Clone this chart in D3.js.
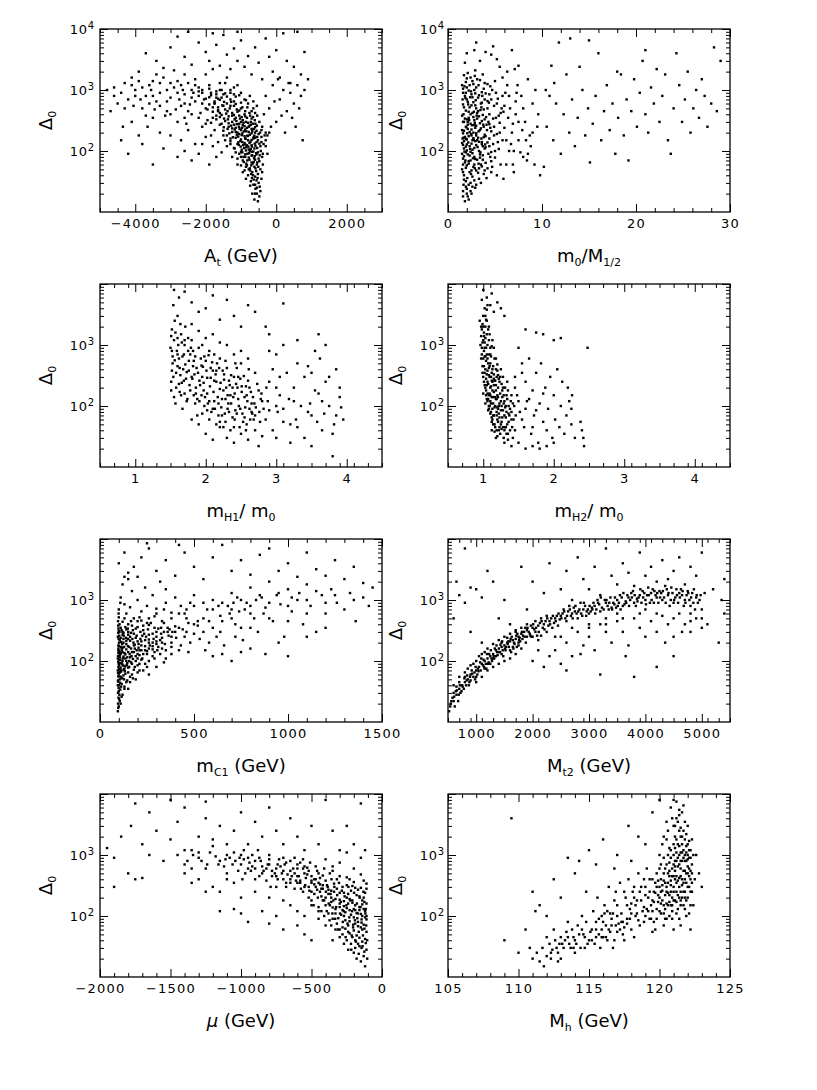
<!DOCTYPE html>
<html>
<head>
<meta charset="utf-8">
<script src="https://cdn.jsdelivr.net/npm/d3@7"></script>
<style>
  body { margin: 0; background: #fff; }
  svg { display: block; }
  text { font-family: "DejaVu Sans", "Liberation Sans", Arial, sans-serif; fill: #000; }
</style>
</head>
<body>
<script>
// Delta_0 vs. parameter scatter panels

var atPts = [[-520,15],[-480,18],[-600,20],[-450,22],[-550,25],[-650,28],[-500,30],[-720,32],[-420,35],[-600,38],[-800,40],[-520,42],[-680,45],[-900,48],[-450,50],[-750,52],[-620,55],[-1000,58],[-550,60],[-850,62],[-700,65],[-480,68],[-950,70],[-600,72],[-1100,75],[-780,78],[-400,80],[-680,85],[-880,88],[-1050,90],[-520,95],[-750,100],[-980,105],[-620,110],[-1200,112],[-850,115],[-450,120],[-700,125],[-1100,130],[-900,135],[-560,140],[-1300,145],[-800,150],[-1000,155],[-650,160],[-1150,165],[-420,170],[-900,175],[-1400,180],[-750,185],[-1050,190],[-600,200],[-1250,205],[-850,210],[-1500,215],[-1000,220],[-700,230],[-1150,240],[-1350,250],[-900,255],[-550,260],[-1600,270],[-1050,280],[-800,290],[-1250,300],[-1450,310],[-950,320],[-1700,330],[-700,340],[-1150,350],[-1350,370],[-1550,390],[-900,400],[-1250,420],[-1800,440],[-1050,460],[-1450,480],[-650,500],[-1650,520],[-1200,550],[-1900,580],[-1400,600],[-1000,620],[-1750,650],[-1300,700],[-2000,720],[-1550,750],[-1150,780],[-1850,820],[-1450,880],[-2100,900],[-1700,950],
  [-560,33],[-740,48],[-830,58],[-610,82],[-960,95],[-720,108],[-880,128],[-1020,145],[-600,165],[-780,205],[-1100,200],[-970,240],[-1200,270],[-660,280],[-1380,230],[-830,350],[-1050,380],[-500,190],[-1300,160],[-1180,110],[-440,100],[-1000,300],[-880,450],[-760,260],[-640,230],
  [-470,26],[-590,24],[-530,36],[-660,40],[-710,58],[-570,47],[-640,66],[-820,70],[-500,75],[-930,80],[-560,88],[-770,92],[-690,97],[-860,102],[-1010,118],[-590,122],[-790,118],[-940,125],[-480,132],[-1080,138],[-730,142],[-870,158],[-1230,168],[-620,178],[-980,182],[-1120,185],[-700,195],[-820,178],[-1330,195],[-920,210],[-1180,225],[-560,215],[-1060,250],[-830,240],[-1280,260],[-1490,245],[-720,300],[-930,290],[-1130,310],[-1370,330],[-610,320],[-1030,340],[-1600,360],[-880,370],[-1200,390],[-1420,410],[-760,420],[-1100,440],[-1650,470],[-1320,500],[-960,520],[-1530,560],[-1150,590],[-1750,610],[-1280,640],[-860,680],[-1600,690],[-1400,780],[-1900,760],[-1050,820],[-1700,850],[-1300,900],[-2200,800],[-1550,1000],[-2400,750],[-1900,1050],[-2300,1200],[-1200,1100],[-2600,600],[-2800,900],[-3100,1000],[-3500,800],[-4000,800],[-3300,1300],[-2500,450],[-2200,350],[-2000,280],[-1750,220],[-1500,180],[-1650,140],[-1850,180],[-2100,130],[-1400,120],[-1550,95],[-1250,80],[-1100,60],[-950,45],[-860,35],[-740,27],[-680,20],[-620,16],[-400,45],[-380,90],[-360,130],[-420,220],[-480,300],[-540,380],[-300,200],[-600,420],[-700,450],[-800,600],[-900,700],[-1000,500],[-750,800],[-650,650],[-550,550],[-1600,1300],[-1400,1600],[-2800,1400],[-3800,1100],[-4300,500],[-4600,800],[-3600,600],
  [-640,34],[-710,42],[-780,50],[-590,52],[-860,55],[-670,62],[-540,65],[-920,66],[-760,72],[-630,76],[-880,80],[-700,84],[-820,90],[-570,92],[-1000,96],[-650,98],[-780,106],[-910,112],[-540,112],[-690,118],[-830,124],[-1060,126],[-610,132],[-760,136],[-960,140],[-520,150],[-700,152],[-880,162],[-1080,172],[-640,170],[-800,176],[-960,195],[-1150,205],[-680,212],[-880,225],[-1040,232],[-600,245],[-780,250],[-1250,235],[-950,265],[-1120,275],[-720,270],[-860,300],[-1350,285],[-1180,330],[-980,360],[-1480,340],[-1250,380],[-1600,420],[-1380,450],[-1120,480],[-1800,520],[-1480,640],[-1650,720],[-2100,600],[-1950,480],[-1700,380],[-1850,290],[-1300,130],[-1150,95],[-1450,150],[-1000,80],[-600,28],[-550,20],[-690,36],[-510,55],[-470,85],[-420,140],[-460,200],[-540,170],[-590,280],[-660,360],[-740,380],[-820,520],[-1200,650],[-1500,850],[-1300,550],[-2400,1000],[-2700,1200],[-2100,1000],[-3300,550],[-3000,400],[-2600,350],[-4100,1200],[-3500,1400],
  [-4600,1100],[-4400,900],[-4300,1300],[-4500,600],[-4200,700],[-4000,1000],[-3900,1400],[-3800,500],[-3700,800],[-3600,1200],[-3500,350],[-3400,650],[-3300,900],[-3200,1600],[-3100,450],[-3000,750],[-2900,1100],[-2800,300],[-2700,550],[-2600,850],[-2500,1300],[-2400,400],[-2300,650],[-2200,950],[-2100,250],[-2000,500],[-1900,1200],[-1800,350],[-1700,750],[-1600,1000],[-1500,550],[-3650,250],[-3300,200],[-3000,180],[-2700,150],[-2500,220],[-2300,130],[-2000,170],[-1800,120],[-4100,300],[-3900,180],[-4400,150],[-4200,90],[-3800,130],[-3500,60],[-3200,110],[-2800,80],[-2600,100],[-2400,70],[-2200,90],[-1900,60],[-1700,80],[-4700,450],[-4800,1000],[-3000,1300],[-2600,1800],[-2300,1500],[-2000,1800],[-1800,2200],[-3400,1800],[-2900,2100],[-3550,1000],[-2750,700],[-2450,580],[-2150,420],[-1950,320],[-3850,700],[-4050,550],[-3150,380],[-2850,480],[-1650,450],[-1550,280],[-2550,280],[-3450,480],[-4350,250],[-3700,380],[-2050,700],[-1850,900],[-1750,600],[-2350,900],[-1450,1300],[-1300,1000],[-1200,850],[-1100,1200],[-1000,900],[-3100,650],[-2650,1000],[-2200,1100],
  [-3700,4000],[-3400,3000],[-3000,5000],[-2800,7500],[-2600,3500],[-2400,2600],[-2200,6000],[-2000,4200],[-1900,3000],[-1700,5500],[-1600,2500],[-1500,8000],[-1400,3800],[-1300,2200],[-1200,4800],[-1100,3000],[-1000,6500],[-900,2400],[-800,3600],[-700,1800],[-600,5000],[-500,2800],[-400,1500],[-300,7000],[-200,3500],[-100,2000],[0,4500],[100,1600],[200,8500],[300,3000],[400,1300],[500,2400],[600,9000],[700,1800],[800,4200],[900,1500],[-2500,9000],[-1800,8500],[-3200,2300],[-4100,1600],[-3900,2000],[-1100,9000],
  [-300,800],[-200,500],[-100,1200],[0,300],[100,700],[200,1000],[300,450],[400,900],[500,600],[600,1200],[700,800],[-350,400],[-150,250],[50,1500],[250,200],[450,350],[650,500],[800,1000],[-50,650],[150,380],[350,1300],[-400,250],[-250,180],[-300,150],[550,250],[750,150],[-300,120],[-250,90],[-380,60],[-200,200],[-330,180]];

var ratioPts = [[1.8,15],[2.1,18],[2.5,20],[1.6,22],[2.9,25],[2.2,28],[1.9,32],[3.3,35],[2.6,38],[1.7,40],[3.8,42],[2.3,45],[3.0,48],[1.5,50],[4.2,52],[2.7,55],[2.0,58],[3.5,60],[1.8,65],[4.6,68],[2.4,70],[3.1,72],[1.6,75],[5.0,78],[2.8,80],[3.7,85],[2.1,88],[4.3,90],[1.9,95],[3.3,100],[2.6,105],[5.4,108],[1.7,110],[4.0,115],[2.3,120],[3.0,125],[4.8,130],[1.5,135],[3.6,140],[2.9,145],[5.8,150],[2.0,155],[4.4,160],[3.2,165],[1.8,170],[2.5,180],[3.9,185],[5.2,190],[1.6,195],[2.7,200],[4.6,210],[3.4,220],[2.1,230],[6.0,240],[1.9,250],[3.0,260],[4.1,270],[2.4,280],[5.5,290],[1.7,300],[3.6,310],[2.8,320],[4.8,340],[2.2,350],[3.3,370],[1.5,380],[4.4,400],[2.6,420],[5.9,440],[1.9,460],[3.8,480],[3.0,500],[2.3,520],[4.9,550],[1.6,580],[3.5,600],[2.7,630],[4.2,660],[2.0,700],[5.3,720],[3.2,750],[1.8,800],[2.5,850],[4.0,880],[3.6,920],[2.2,980],[1.6,1050],[3.0,1100],[4.5,1150],[2.7,1250],[1.9,1350],[3.4,1450],[2.4,1600],[1.7,1750],[5.0,1400],[3.9,1300],[6.3,1200],[2.1,1900],[2.9,2100],
  [2.2,62],[3.4,78],[2.6,92],[3.9,110],[2.0,128],[3.1,150],[4.0,175],[2.3,205],[3.5,235],[2.8,265],[4.3,300],[2.0,330],[3.1,420],[2.5,560],[3.9,700],[2.9,880],[4.7,1000],[2.2,440],[3.7,390],[2.6,150],[1.9,118],[4.5,240],[5.1,350],[2.8,60],[3.3,52],[1.7,145],[2.4,97],[3.0,180],[2.1,300],[3.6,130],
  [1.6,18],[2.0,24],[2.4,30],[1.7,34],[2.8,33],[3.2,44],[2.5,48],[1.9,53],[3.6,56],[2.2,68],[4.0,64],[2.9,74],[1.7,82],[3.4,88],[2.3,84],[4.6,96],[2.0,102],[2.8,112],[3.7,120],[1.6,126],[2.5,132],[4.2,138],[3.3,142],[1.9,158],[2.7,162],[3.8,168],[2.2,175],[4.9,180],[3.0,195],[1.7,215],[2.5,225],[3.8,250],[2.9,240],[4.4,275],[2.1,270],[3.4,285],[1.8,340],[2.7,360],[3.9,330],[5.4,380],[2.4,400],[3.2,450],[4.2,500],[1.7,520],[2.9,560],[3.6,620],[2.1,640],[4.6,700],[2.6,760],[3.3,820],[1.9,900],[2.8,1000],[3.8,1050],[2.3,1200],[4.2,1250],[3.1,1500],[2.0,1550],[5.8,800],[6.0,550],[5.5,200],[6.2,150],[7.0,100],[7.5,300],[8.0,500],[5.0,100],[4.7,55],[3.9,48],[2.6,26],[2.0,20],[1.6,60],[1.6,300],[1.6,900],[1.5,1200],[1.5,220],[1.5,90],[2.2,16],[3.5,30],[4.4,120],[3.1,340],[3.7,1800],[8.5,90],[9.0,200],[7.2,650],
  [1.65,28],[2.05,36],[2.45,42],[2.85,52],[3.25,62],[1.85,70],[2.65,76],[3.45,95],[1.75,98],[2.35,108],[3.15,116],[3.95,128],[2.15,138],[2.75,152],[3.55,160],[1.65,165],[2.45,190],[3.25,210],[4.15,220],[1.95,245],[2.85,290],[3.75,270],[2.25,320],[4.05,360],[1.65,400],[2.75,440],[3.55,520],[2.15,580],[4.35,620],[2.95,680],[1.85,740],[3.65,800],[2.45,950],[1.75,1150],[3.25,1200],[2.6,1400],[4.4,850],[5.2,600],[5.6,420],[4.9,250],[5.3,140],[4.5,80],[4.1,36],[3.0,28],[2.4,22],[1.9,26],[3.7,72],[2.05,195],[2.55,265],[3.05,380],[3.45,470],[2.35,760],[2.85,1700],[2.0,1100],[1.55,700],[1.55,160],[1.6,45],[6.5,800],[7.3,900],[6.9,60],[8.3,150],[5.8,1600],
  [6.2,60],[6.5,100],[6.8,200],[7.0,45],[7.2,400],[7.5,150],[7.8,800],[8.0,80],[8.2,300],[8.5,1500],[8.8,120],[9.0,600],[9.2,60],[9.5,250],[9.8,40],[6.1,900],[6.6,500],[7.4,1200],[8.4,70],[9.3,1000],[6.9,280],[7.7,95],[8.7,180],[9.6,400],[6.3,2000],[7.1,2200],[5.6,60],[5.9,35],[5.2,40],[4.6,45],[6.7,130],[5.7,500],[5.1,900],[6.4,350],[7.9,220],
  [2.0,4000],[2.8,4500],[3.4,3000],[4.0,4200],[4.6,3800],[5.2,3200],[3.0,6000],[4.8,5200],[6.8,4500],[7.5,2500],[1.8,2800],[5.5,2400],
  [10.2,55],[10.5,250],[10.8,800],[11.0,2500],[11.2,150],[11.5,600],[11.8,6000],[12.0,90],[12.3,400],[12.6,1800],[12.9,200],[13.2,700],[13.5,120],[13.8,350],[14.0,2400],[14.3,1000],[14.6,180],[14.9,500],[15.1,65],[15.4,280],[15.7,800],[16.0,4000],[16.3,150],[16.6,450],[16.9,1200],[17.2,220],[17.5,600],[17.8,90],[18.1,350],[18.4,1800],[18.7,180],[19.0,700],[19.2,70],[19.5,450],[19.8,1500],[20.1,250],[20.4,900],[20.7,3000],[21.0,400],[21.3,200],[21.6,1100],[21.9,600],[22.2,2200],[22.5,300],[22.8,800],[23.1,1800],[23.4,150],[23.7,90],[24.0,500],[24.3,4000],[24.6,1200],[24.9,300],[25.2,700],[25.5,2000],[25.8,200],[26.1,500],[26.4,1000],[26.7,350],[27.0,1500],[27.3,800],[27.6,250],[28.0,600],[28.3,5000],[28.6,450],[29.0,3000],[13.0,7000],[15.0,6500],[18.0,2000],[21.0,4500],[11.3,1300],[10.4,1000]];

var mh1Pts = [[1.52,1800],[1.55,1200],[1.5,900],[1.6,700],[1.53,500],[1.58,350],[1.51,250],[1.65,1500],[1.7,1000],[1.62,600],[1.75,800],[1.68,400],[1.8,1200],[1.72,280],[1.85,650],[1.78,180],[1.9,900],[1.82,450],[1.95,300],[1.88,130],[2.0,550],[1.92,220],[2.05,800],[1.98,100],[2.1,380],[2.02,160],[2.15,250],[2.08,80],[2.2,600],[2.12,120],[2.25,180],[2.18,70],[2.3,420],[2.22,95],[2.35,150],[2.28,55],[2.4,300],[2.32,110],[2.45,200],[2.38,65],[2.5,500],[2.42,85],[2.55,140],[2.48,45],[2.6,260],[2.52,75],[2.65,110],[2.58,50],[2.7,350],[2.62,90],[2.75,180],[2.68,60],[2.8,120],[1.56,2500],[1.6,3000],[1.54,4500],[1.63,170],[1.57,110],[1.67,90],[1.74,130],[1.86,200],[1.94,150],[2.06,210],[2.14,330],[2.26,270],[2.34,220],[2.46,130],[2.56,95],[2.66,75],[2.76,80],[1.84,330],[1.76,550],[1.66,1100],[1.59,800],[1.96,440],[2.04,680],[2.16,500],[2.24,380],[2.44,420],[2.54,310],[2.64,170],[1.71,2000],[1.9,1700],[2.0,1300],[2.3,1000],[2.5,800],[2.2,1100],[2.1,1500],[1.8,2200],
  [1.51,1400],[1.53,650],[1.52,380],[1.51,180],[1.55,140],[1.6,450],[1.62,230],[1.64,320],[1.69,700],[1.73,360],[1.77,220],[1.79,900],[1.83,150],[1.87,420],[1.91,260],[1.93,600],[1.97,180],[2.01,380],[2.03,110],[2.07,290],[2.11,170],[2.13,90],[2.17,140],[2.19,420],[2.23,130],[2.27,75],[2.29,200],[2.33,80],[2.36,320],[2.39,140],[2.41,60],[2.43,230],[2.47,100],[2.51,170],[2.53,55],[2.57,210],[2.59,120],[2.63,60],[2.67,140],[2.71,95],[2.73,230],[2.77,55],[2.79,160],[2.82,90],[1.7,160],[1.85,110],[1.95,75],[2.05,60],[2.15,50],[2.25,45],[2.35,40],[1.66,240],[1.81,280],[2.09,520],[2.21,240],[2.31,150],[2.49,280],[2.61,400],[1.6,1300],[1.75,1300],[1.95,1000],[2.4,700],[2.6,600],[2.9,800],[3.0,200],[3.1,55],[3.25,120],[3.45,80],[3.65,120],[3.85,70],[3.3,45],[3.0,100],[3.5,350],
  [1.52,800],[1.54,300],[1.56,560],[1.58,200],[1.61,1000],[1.63,420],[1.65,150],[1.67,650],[1.69,260],[1.71,480],[1.73,120],[1.76,380],[1.78,700],[1.8,300],[1.83,550],[1.86,160],[1.89,350],[1.91,120],[1.94,460],[1.97,240],[1.99,140],[2.02,290],[2.05,120],[2.07,420],[2.1,90],[2.12,260],[2.15,380],[2.18,110],[2.2,190],[2.23,70],[2.26,330],[2.28,130],[2.31,90],[2.33,260],[2.36,110],[2.38,200],[2.41,160],[2.44,75],[2.46,300],[2.49,90],[2.51,210],[2.55,65],[2.58,150],[2.62,200],[2.65,80],[2.69,110],[1.57,1600],[1.64,2200],[1.7,1200],[1.82,800],[1.98,650],[2.12,700],[2.28,550],[2.42,500],[2.02,85],[2.2,55],[2.4,45],[1.88,70],[2.57,40],[2.7,70],[2.78,130],[2.86,200],[2.9,85],[3.05,300],
  [1.55,8000],[1.62,6000],[1.7,7500],[1.8,5000],[1.9,3500],[2.0,4000],[2.1,6500],[2.2,2600],[2.4,3000],[2.6,4500],[2.7,3500],[2.85,2000],[2.9,1500],[3.1,4800],[2.5,2000],[2.3,5500],
  [2.85,60],[2.9,250],[2.95,40],[3.0,700],[3.05,150],[3.1,90],[3.15,350],[3.2,50],[3.25,200],[3.3,1200],[3.35,100],[3.4,30],[3.45,450],[3.5,70],[3.55,180],[3.6,1500],[3.62,600],[3.65,40],[3.7,250],[3.75,100],[3.8,35],[3.85,400],[3.9,140],[3.95,60],[3.0,30],[3.2,25],[3.5,22],[3.8,15],[3.3,500],[3.1,1000],[2.95,400],[3.55,800],[3.7,1000],[3.4,300],[3.6,160],[3.75,300],[3.9,200],[2.88,120],[3.02,80],[3.18,130],[3.28,60],[3.48,110],[3.58,55],[3.68,75],[3.82,50],[3.92,95],
  [2.0,35],[2.1,28],[2.3,30],[2.4,25],[2.5,35],[2.6,28],[2.7,40],[2.8,32],[2.2,45],[1.9,50],[2.75,22],[1.8,60]];

var mh2Pts = [[0.95,2500],[0.98,1800],[1.0,1200],[1.02,900],[0.97,600],[1.05,1500],[1.03,400],[1.08,700],[1.0,300],[1.06,250],[1.1,500],[1.04,180],[1.12,350],[1.07,130],[1.15,220],[1.09,100],[1.18,400],[1.11,80],[1.2,150],[1.13,60],[1.22,280],[1.16,50],[1.25,120],[1.19,40],[1.28,200],[1.21,90],[1.3,70],[1.24,35],[1.33,150],[1.26,55],[1.36,100],[1.29,30],[1.4,80],[1.32,45],[1.43,60],[1.35,28],[1.45,40],[0.99,450],[1.01,800],[1.03,2000],[1.06,1000],[1.08,320],[1.1,200],[1.12,140],[1.14,110],[1.16,260],[1.18,180],[1.2,95],[1.22,75],[1.24,160],[1.26,230],[1.28,85],[1.3,120],[1.32,65],[1.34,50],[1.0,3000],[1.02,650],[1.04,550],[1.06,380],[1.08,150],[1.1,120],[1.13,90],[1.15,70],[1.17,140],[1.19,300],[1.21,200],[1.23,110],[1.27,65],[1.31,95],[1.38,40],[1.42,30],[1.1,700],[1.14,450],[1.18,600],[1.05,220],[0.96,1000],[1.0,160],[1.03,110],[1.25,400],[1.35,180],[1.37,70],[1.12,40],[1.2,32],[1.3,25],[1.4,22],[1.15,900],[1.08,1200],
  [0.97,1400],[0.99,2200],[1.01,1600],[1.03,1300],[1.05,700],[1.07,500],[1.09,450],[1.11,300],[1.13,250],[1.15,170],[1.17,100],[1.19,70],[1.21,55],[1.23,45],[1.25,85],[1.27,140],[1.29,110],[1.31,45],[1.33,80],[1.36,55],[1.39,120],[1.41,45],[1.44,100],[0.98,900],[1.0,600],[1.02,350],[1.04,280],[1.06,160],[1.08,100],[1.1,75],[1.12,65],[1.14,50],[1.16,38],[1.18,30],[1.22,40],[1.26,42],[1.01,250],[1.03,200],[1.05,130],[1.07,85],[1.09,160],[1.11,210],[1.13,180],[1.15,330],[1.17,260],[1.19,130],[1.21,320],[1.23,250],[1.07,1800],[1.04,2600],[1.02,4000],[0.99,1100],[1.12,950],[1.2,480],[1.28,300],[1.34,250],[1.4,150],[1.46,70],[1.5,120],[1.55,60],[1.6,90],[1.7,45],[1.45,200],[1.35,35],
  [0.98,700],[0.99,350],[1.0,2000],[1.01,450],[1.02,220],[1.02,1100],[1.03,650],[1.04,150],[1.04,900],[1.05,330],[1.06,120],[1.06,600],[1.07,230],[1.08,90],[1.08,420],[1.09,300],[1.1,150],[1.1,900],[1.11,110],[1.12,260],[1.12,55],[1.13,400],[1.14,140],[1.14,70],[1.15,280],[1.16,95],[1.16,600],[1.17,45],[1.18,130],[1.18,220],[1.19,80],[1.2,380],[1.2,60],[1.21,140],[1.22,100],[1.23,65],[1.24,300],[1.25,50],[1.26,100],[1.27,180],[1.28,45],[1.29,150],[1.3,40],[1.31,200],[1.32,100],[1.33,35],[1.34,130],[1.36,75],[1.38,90],[1.4,60],[1.42,110],[1.01,1400],[1.03,3000],[0.97,2000],[1.09,1500],[1.11,650],[1.13,1200],[1.05,2500],[1.06,4500],[1.08,2000],
  [1.0,8000],[1.05,6000],[1.1,4500],[1.12,7000],[1.15,3500],[1.2,5000],[1.25,4000],[1.3,3000],[0.98,5500],[1.05,3800],[1.6,1800],[1.75,1600],[1.85,1500],[2.1,1300],[2.0,1200],
  [1.45,300],[1.48,150],[1.5,900],[1.52,80],[1.55,500],[1.58,45],[1.6,250],[1.62,120],[1.65,600],[1.68,35],[1.7,180],[1.72,70],[1.75,350],[1.78,25],[1.8,110],[1.82,500],[1.85,55],[1.88,200],[1.9,40],[1.92,90],[1.95,300],[1.98,30],[2.0,150],[2.02,60],[2.05,400],[2.08,45],[2.1,100],[2.12,250],[2.15,35],[2.18,70],[2.2,200],[2.22,120],[2.25,90],[2.26,150],[2.25,50],[2.3,30],[1.5,25],[1.6,20],[1.7,22],[1.8,20],[1.9,22],[2.0,25],[1.55,350],[1.65,130],[1.75,85],[1.85,160],[2.4,40],[2.42,30],[2.43,22],[2.38,55],[2.48,900]];

var charginoPts = [[95,15],[100,18],[105,22],[98,25],[110,20],[120,28],[100,32],[130,35],[95,40],[115,42],[140,45],[105,50],[160,55],[125,58],[100,62],[150,65],[95,70],[180,72],[110,78],[135,82],[200,85],[100,90],[165,95],[120,100],[220,105],[95,110],[145,115],[190,120],[105,125],[250,130],[130,135],[170,140],[100,145],[210,150],[280,155],[115,160],[155,170],[240,175],[98,180],[185,185],[300,190],[125,200],[220,210],[105,220],[260,225],[150,230],[330,240],[95,250],[195,260],[120,270],[280,280],[165,290],[360,300],[100,310],[230,320],[140,330],[310,340],[110,350],[200,360],[400,370],[97,380],[260,390],[150,400],[340,420],[120,440],[220,460],[180,500],[100,520],[290,540],[140,600],[380,620],[220,650],[100,700],[300,720],[160,760],[250,800],[130,850],[350,900],[200,1000],[110,1100],[280,1200],[170,1400],[240,1600],[120,1800],[320,2000],[200,2400],[150,2200],[350,1500],[400,1100],[430,800],[460,500],[420,350],[450,250],[380,200],[330,160],[280,120],[240,90],[200,65],[160,45],[130,38],[260,60],[300,80],[350,110],[420,150],[480,200],[500,280],[470,140],[520,380],[380,130],[340,95],[230,70],[190,50],[150,35],[115,26],[108,105],[118,190],[138,240],[158,130],[178,200],[205,165],[225,110],[245,250],[265,180],[285,230],[305,150],[325,280],[345,190],[365,260],[385,300],[405,240],[440,330],[470,420],[96,48],[102,85],[112,135],[98,160],[104,300],[108,66],[130,75],[145,92],[175,108],[210,125],[250,145],[125,118],[170,60],[140,155],[185,80],[112,55],[128,170],[160,215],[300,300],[190,340],[270,420],
  [96,20],[103,28],[99,36],[107,44],[97,56],[113,68],[101,74],[119,88],[97,96],[124,84],[106,115],[98,135],[116,150],[101,200],[110,240],[97,290],[126,260],[104,400],[115,320],[99,600],[108,900],[135,110],[150,140],[165,160],[180,180],[200,210],[220,180],[240,220],[260,270],[280,200],[300,250],[320,220],[340,300],[360,350],[380,250],[400,300],[135,62],[150,78],[170,90],[190,100],[210,90],[230,130],[260,100],[290,140],[320,130],[350,150],[380,170],[145,48],[175,52],[210,70],[250,80],[290,110],[150,300],[170,380],[200,450],[230,380],[260,500],[300,600],[340,700],[380,500],[420,600],[460,700],[500,800],[550,900],[600,700],[650,900],[700,700],[750,1000],[800,800],[850,1200],[900,900],[950,1300],[1000,800],[1100,1000],[1150,1400],[1250,1200],[1350,1000],[500,400],[550,500],[600,350],[650,450],[700,500],[750,350],[800,600],[900,500],[1000,450],[1100,600],[1200,900],[430,180],[460,300],[530,230],[580,200],[640,300],[720,250],[800,350],[120,140],[125,230],[112,170],[140,190],[160,250],[180,280],[195,150],[215,230],[235,280],
  [97,17],[102,24],[96,30],[108,34],[100,40],[112,38],[96,46],[118,52],[103,56],[128,50],[96,64],[109,72],[132,68],[98,80],[115,94],[142,86],[100,104],[122,110],[155,100],[96,120],[109,130],[135,128],[168,120],[98,150],[120,165],[148,175],[185,160],[101,175],[113,205],[140,215],[172,230],[205,190],[99,230],[120,300],[150,270],[190,240],[225,260],[260,200],[300,210],[330,200],[98,340],[135,360],[175,320],[215,300],[255,330],[290,350],[325,350],[370,330],[96,450],[130,500],[165,450],[210,520],[250,420],[330,450],[102,260],[125,290],[148,340],[106,140],[140,100],[160,115],[180,140],[200,130],[220,150],[260,160],[280,175],[240,150],[310,170],[105,65],[125,72],[155,80],[107,92],[200,110],
  [450,600],[480,900],[500,1200],[520,450],[550,300],[570,700],[600,1000],[620,250],[640,550],[660,180],[680,800],[700,1300],[720,400],[740,650],[760,220],[780,900],[800,1600],[820,500],[840,300],[860,1100],[880,750],[900,2000],[920,450],[940,1200],[960,850],[980,250],[1000,1500],[1020,650],[1050,1000],[1080,400],[1100,1800],[1120,800],[1150,300],[1180,1200],[1200,600],[1230,1500],[1260,900],[1300,700],[1330,1300],[1360,450],[1400,1100],[1430,800],[1450,1600],[560,150],[600,120],[650,130],[700,100],[750,140],[800,160],[880,130],[950,200],[1000,120],[1100,250],[1200,350],[580,450],[630,800],[690,600],[710,900],[730,1100],[770,700],[830,1000],[870,600],[1020,1100],[1060,1300],
  [100,4000],[130,6000],[150,2800],[180,3500],[220,5000],[260,7000],[300,3000],[350,4500],[400,2500],[450,6000],[500,3500],[550,2200],[600,5000],[650,8000],[700,3000],[750,4500],[800,2600],[850,5500],[900,7000],[950,3000],[1000,4000],[1050,2400],[1100,6000],[1150,3200],[1200,2500],[1250,4500],[1300,2200],[1350,3500],[1400,1900],[250,8500],[420,8000],[130,2400]];

var stopPts = [[520,15],[550,20],[580,25],[620,18],[600,30],[650,28],[700,35],[680,22],[750,40],[720,30],[800,45],[780,35],[850,50],[820,40],[900,60],[880,45],[950,55],[1000,70],[980,50],[1050,80],[1020,60],[1100,90],[1080,70],[1150,100],[1120,85],[1200,110],[1180,75],[1250,120],[1220,95],[1300,130],[1280,100],[1350,150],[1320,110],[1400,160],[1380,125],[1450,170],[1420,140],[1500,180],[1480,120],[1550,200],[1520,150],[1600,210],[1580,170],[1650,220],[1620,140],[1700,230],[1680,190],[1750,250],[1720,170],[1800,280],[1780,210],[1850,300],[1820,230],[1900,320],[1880,200],[1950,280],[2000,350],[1980,250],[2050,300],[2100,380],[2150,260],[2200,400],[2250,300],[2300,450],[2350,350],[2400,500],[2450,380],[2500,550],[2600,450],[2700,600],[2800,500],[2900,700],[3000,600],[3100,800],[3200,650],[3300,900],[3400,750],[3500,1000],[3600,800],[3700,1100],[3800,900],[3900,1200],[4000,1000],[4100,1300],[4200,1100],[4300,1000],[4400,1200],[4500,900],[4600,1300],[4700,1000],[4800,800],[4900,1100],[5000,700],[600,40],[700,55],[800,65],[900,85],[1000,100],[1100,130],[1200,160],[1300,190],[1400,220],[1500,250],[1600,280],[1700,320],[1800,350],[1900,400],[2000,250],[2100,220],[1000,45],[1100,55],[1200,70],[1300,80],[1400,90],[1500,100],[1600,110],[1700,130],[1800,160],[850,75],[950,90],[1050,120],[1150,140],[1250,90],[1350,120],[1450,200],[1550,240],[1650,170],[1750,200],[2050,450],[2150,500],[2250,550],[2550,700],[2650,800],[2750,650],[2850,900],[2950,550],[3050,750],[3150,1000],[3350,700],[3450,850],[3550,1200],[3650,950],[3750,1300],[3850,1050],[3950,1400],[4050,1600],[4150,900],[4250,1400],[4350,1700],[4450,1000],[4550,1500],[4650,1200],[4750,1400],[4850,900],[5050,1300],
  [560,22],[640,32],[690,28],[760,38],[830,48],[870,40],[920,70],[970,65],[1030,75],[1070,95],[1130,105],[1170,90],[1230,130],[1270,110],[1330,160],[1370,140],[1430,185],[1470,150],[1530,170],[1570,210],[1630,250],[1670,200],[1730,280],[1770,240],[1830,260],[1870,350],[1930,300],[1970,380],[2030,330],[2080,260],[2130,420],[2180,350],[2230,450],[2280,380],[2330,500],[2380,420],[2430,550],[2480,480],[2530,600],[2580,500],[2630,650],[2680,550],[2730,750],[2780,600],[2830,700],[2880,550],[2930,800],[2980,700],[3030,650],[3080,900],[3130,700],[3180,850],[3230,750],[3280,1000],[3330,800],[3380,1100],[3430,900],[3480,750],[3530,900],[3580,1100],[3630,850],[3680,1200],[3730,1000],[3780,1400],[3830,800],[3880,1100],[3930,900],[3980,1300],[4030,1200],[4080,900],[4130,1500],[4180,1200],[4230,900],[4280,1300],[4330,1100],[4380,1500],[4430,800],[4480,1300],[4530,1100],[4580,900],[4630,1500],[4680,800],[4730,1200],[4780,1000],[4830,1300],[4880,700],[4930,900],[4980,1200],[2100,150],[2400,250],[2700,350],[3000,350],[3300,400],[3600,500],[3900,600],[4200,600],[4500,500],[4800,450],[5000,500],[1900,250],[1750,180],[1600,150],[1450,130],[1300,110],[1150,75],[1000,55],[900,48],[800,55],[700,45],[650,38],[600,22],
  [540,18],[610,26],[660,33],[710,40],[740,32],[790,52],[840,58],[890,55],[930,62],[990,80],[1040,68],[1090,110],[1140,80],[1190,130],[1210,90],[1260,150],[1310,120],[1360,180],[1410,140],[1460,210],[1510,160],[1560,190],[1610,230],[1660,160],[1710,260],[1760,220],[1810,300],[1860,250],[1910,350],[1960,260],[2010,400],[2060,350],[2110,300],[2160,450],[2210,330],[2260,500],[2310,400],[2360,550],[2410,450],[2460,600],[2510,500],[2560,650],[2610,550],[2660,700],[2710,500],[2760,800],[2810,650],[2860,600],[2910,900],[2960,650],[3010,800],[3060,700],[3110,600],[3160,900],[3210,1100],[3260,700],[3310,1000],[3360,900],[3410,700],[3460,1100],[3510,800],[3560,700],[3610,1300],[3660,900],[3710,800],[3760,1100],[3810,1200],[3860,950],[3910,1500],[3960,1100],[4010,850],[4060,1200],[4110,1000],[4160,1400],[4210,1300],[4260,1100],[4310,1400],[4360,900],[4410,1300],[4460,1600],[4510,1000],[4560,1200],[4610,1100],[4660,1400],[4710,900],[4760,1300],[4810,1100],[4860,1500],[4910,1200],[4960,1000],
  [2000,100],[2200,80],[2400,150],[2500,250],[2600,200],[2700,120],[2800,300],[2900,180],[3000,250],[3100,150],[3200,400],[3300,300],[3400,200],[3500,450],[3600,300],[3700,180],[3800,500],[3900,350],[4000,250],[4100,450],[4200,300],[4300,550],[4400,400],[4500,250],[4600,600],[4700,400],[4800,300],[4900,500],[5000,350],[2300,120],[2600,70],[3200,60],[3800,55],[4200,80],[4500,120],[3000,400],[3500,600],[2500,90],[3300,500],[4000,700],[4800,600],[5100,400],[5300,200],[5400,600],[3650,120],[2850,130],[4350,200],[4650,300],
  [600,500],[700,1200],[800,900],[900,300],[1000,1500],[1100,200],[1200,3000],[1300,2000],[1400,500],[1500,1000],[1600,400],[1700,300],[1800,3500],[1900,700],[2000,2000],[2200,1300],[2300,4000],[2500,1500],[2600,3000],[2700,1000],[2800,5000],[2900,2200],[3000,1500],[3100,3500],[3200,1200],[3300,7000],[3400,2500],[3500,1800],[3600,4000],[3700,2800],[3800,1700],[3900,6000],[4000,2500],[4100,3500],[4200,2000],[4300,4500],[4400,2200],[4500,3000],[4600,5000],[4700,1800],[4800,3500],[4900,2500],[5000,6000],[5200,1500],[5400,2200],[5350,1000],[800,7000],[1100,1100],[650,2000],[900,1600]];

var muPts = [[-120,15],[-150,18],[-130,22],[-180,20],[-110,28],[-200,25],[-160,32],[-140,38],[-220,35],[-120,42],[-250,40],[-180,48],[-110,55],[-280,50],[-200,58],[-150,65],[-300,60],[-130,72],[-240,70],[-170,80],[-320,75],[-110,88],[-260,85],[-200,95],[-350,90],[-140,100],[-290,105],[-180,112],[-380,110],[-120,120],[-230,125],[-330,130],[-160,140],[-270,145],[-400,150],[-110,160],[-210,165],[-360,170],[-140,180],[-300,185],[-250,200],[-430,210],[-180,220],[-120,240],[-340,250],[-220,260],[-460,270],[-150,290],[-280,300],[-390,320],[-110,340],[-200,360],[-500,380],[-320,400],[-250,430],[-420,460],[-150,480],[-550,500],[-350,550],[-200,600],[-470,650],[-600,700],[-300,750],[-400,850],[-150,900],[-250,1100],[-170,35],[-230,52],[-260,62],[-190,75],[-310,92],[-150,108],[-260,115],[-350,138],[-190,150],[-300,160],[-230,190],[-130,200],[-380,230],[-270,240],[-170,270],[-320,280],[-210,310],[-440,330],[-130,130],[-110,100],[-140,60],[-210,45],[-160,125],[-280,125],[-240,160],[-200,130],[-360,200],[-420,180],[-480,230],[-520,300],[-580,350],[-600,450],[-650,550],
  [-105,20],[-125,26],[-145,30],[-165,24],[-190,30],[-115,36],[-135,48],[-160,44],[-190,40],[-215,48],[-240,55],[-125,62],[-170,68],[-205,72],[-280,65],[-145,78],[-230,82],[-120,95],[-175,92],[-220,105],[-270,100],[-330,110],[-115,130],[-190,125],[-250,135],[-300,140],[-370,150],[-140,155],[-210,180],[-270,175],[-330,190],[-400,200],[-160,210],[-240,230],[-300,240],[-360,260],[-430,280],[-110,280],[-190,290],[-250,320],[-340,340],[-400,380],[-470,400],[-130,380],[-230,400],[-300,450],[-370,500],[-460,550],[-530,620],[-410,600],[-350,650],[-510,750],[-560,850],[-620,900],[-680,750],[-740,700],[-800,850],[-860,800],[-920,1000],[-980,1200],[-1040,800],[-1100,1000],[-1160,700],[-1220,1100],[-1280,800],[-1340,1000],[-700,400],[-760,500],[-820,600],[-640,450],[-580,380],[-540,420],[-480,330],[-440,250],[-380,270],[-520,200],[-560,250],[-620,280],[-680,350],[-740,400],[-790,300],[-870,450],[-930,550],[-990,400],[-1050,350],[-330,60],[-270,35],[-240,28],[-300,45],[-360,70],[-410,100],[-450,140],[-500,180],
  [-105,40],[-112,70],[-118,110],[-125,170],[-132,250],[-138,32],[-145,88],[-152,140],[-158,200],[-165,55],[-172,110],[-178,160],[-185,38],[-192,85],[-198,240],[-205,65],[-212,120],[-218,28],[-225,180],[-232,95],[-238,300],[-245,75],[-252,150],[-258,45],[-265,210],[-272,120],[-278,80],[-285,260],[-292,170],[-298,110],[-305,350],[-312,60],[-318,220],[-325,140],[-332,90],[-338,300],[-345,180],[-352,110],[-358,400],[-365,230],[-372,85],[-378,160],[-385,300],[-392,120],[-398,250],[-410,180],[-420,320],[-430,120],[-440,420],[-455,200],[-470,300],[-485,150],[-500,350],[-515,260],[-530,480],[-545,320],[-560,600],[-575,280],[-590,450],[-610,380],[-630,600],[-650,350],[-670,480],[-690,700],[-710,500],[-730,850],[-750,600],[-780,450],[-810,700],[-840,550],[-870,900],[-900,600],[-940,750],[-970,500],[-1010,900],[-1060,700],[-1110,850],[-1180,950],[-1240,700],[-1300,1100],[-1380,800],
  [-1450,1000],[-1400,700],[-1350,1200],[-1300,900],[-1250,600],[-1200,1400],[-1150,800],[-1100,500],[-1050,1100],[-1000,700],[-950,900],[-900,400],[-850,650],[-800,1000],[-750,300],[-700,550],[-650,800],[-600,350],[-550,650],[-500,250],[-450,500],[-1000,1000],[-950,600],[-900,800],[-850,500],[-800,700],[-750,450],[-700,900],[-650,400],[-600,600],[-550,300],[-500,450],[-450,350],[-1120,650],[-1080,900],[-1020,550],[-980,850],[-920,650],[-880,1200],[-820,380],[-780,550],[-720,650],[-680,300],[-620,500],[-580,750],[-520,550],[-480,400],[-420,280],[-1200,300],[-1150,250],[-1000,200],[-900,250],[-800,200],[-700,180],[-650,150],[-600,120],[-550,100],[-500,150],[-450,90],[-400,70],[-850,120],[-750,100],[-950,80],[-1050,130],[-1100,400],[-1300,400],[-1400,500],[-1350,350],[-700,60],[-600,70],[-550,50],[-500,40],[-800,75],[-450,120],[-350,40],
  [-1950,1300],[-1900,900],[-1850,2000],[-1800,500],[-1780,3000],[-1750,400],[-1700,1500],[-1650,1000],[-1600,2500],[-1550,800],[-1500,1800],[-1450,3500],[-1400,1200],[-1350,600],[-1300,2000],[-1250,4000],[-1200,1800],[-1150,3000],[-1100,1500],[-1050,2500],[-1000,5000],[-950,1500],[-900,3500],[-850,2000],[-800,6000],[-750,2500],[-700,1500],[-650,4000],[-600,2000],[-550,1200],[-500,3000],[-450,1500],[-400,8000],[-350,2500],[-300,1200],[-250,3000],[-200,1500],[-150,7000],[-120,1200],[-1900,300],[-1700,420],[-1250,250],[-1150,120],[-1000,110],[-1750,7000],[-1500,8000],[-1250,7500],[-1650,5000],[-1400,6000]];

var higgsPts = [[119.0,100],[119.2,200],[119.4,150],[119.5,400],[119.6,80],[119.8,300],[120.0,120],[120.0,600],[120.1,250],[120.2,180],[120.3,900],[120.4,350],[120.5,90],[120.6,500],[120.7,220],[120.8,1200],[120.9,150],[121.0,700],[121.0,300],[121.1,2000],[121.2,450],[121.3,130],[121.4,1000],[121.5,250],[121.5,600],[121.6,1500],[121.7,350],[121.8,800],[121.9,180],[122.0,3000],[122.0,500],[122.1,1200],[122.2,250],[122.3,700],[122.4,150],[122.5,400],[120.2,1500],[120.6,2500],[120.9,4000],[121.3,3500],[121.6,5000],[121.2,800],[120.8,380],[121.4,200],[121.8,400],[122.1,300],[120.4,130],[120.7,100],[121.0,60],[121.5,70],[121.9,100],[122.2,60],[119.7,60],[120.3,70],[121.2,110],[121.7,150],[120.0,1000],[120.5,1800],[121.1,1300],[121.3,650],[121.9,2200],[122.3,1800],[121.6,320],[120.9,200],[120.1,400],[119.9,170],[121.8,1000],[122.0,850],[121.4,420],[121.1,550],[120.7,750],[121.5,2800],[121.7,6500],[121.2,7500],[121.0,8000],[122.0,1500],
  [119.1,130],[119.3,250],[119.5,180],[119.7,350],[119.9,220],[120.1,160],[120.2,320],[120.3,500],[120.4,220],[120.5,700],[120.6,150],[120.6,350],[120.7,450],[120.8,250],[120.9,600],[121.0,1000],[121.0,180],[121.1,400],[121.1,800],[121.2,250],[121.3,1500],[121.3,380],[121.4,700],[121.4,2500],[121.5,450],[121.5,1100],[121.6,200],[121.6,800],[121.7,550],[121.7,1200],[121.8,250],[121.8,1800],[121.9,500],[121.9,800],[122.0,300],[122.0,650],[122.1,450],[122.1,900],[122.2,150],[122.2,550],[122.3,350],[122.4,1000],[120.0,300],[119.8,130],[119.6,250],[119.4,90],[119.2,120],[118.9,80],[118.7,180],[118.4,110],[118.2,200],[117.9,90],[117.7,150],[117.4,80],[117.2,60],[116.9,70],[116.7,110],[116.4,60],[116.2,45],[115.9,60],[115.7,90],[115.5,45],[115.2,40],[114.9,35],[114.7,45],[114.5,60],[114.1,35],[113.9,45],[113.7,30],[113.3,40],[112.9,35],[112.3,25],[120.5,250],[120.8,150],[121.2,170],[121.5,150],[121.8,130],[122.1,110],[120.3,110],[120.9,90],[121.4,90],[121.0,450],[121.6,2000],[121.2,1800],[120.7,1300],[121.9,1400],[122.2,900],[121.8,3500],[121.4,4500],[120.5,3500],[120.8,6000],[121.1,3000],
  [119.5,120],[119.6,170],[119.7,240],[119.8,90],[119.9,380],[120.0,200],[120.1,110],[120.1,700],[120.2,260],[120.3,150],[120.3,380],[120.4,600],[120.4,90],[120.5,300],[120.5,160],[120.6,1000],[120.6,240],[120.7,170],[120.7,550],[120.8,320],[120.8,900],[120.9,120],[120.9,450],[121.0,250],[121.0,1500],[121.1,180],[121.1,650],[121.2,350],[121.2,1100],[121.3,220],[121.3,900],[121.4,300],[121.4,1400],[121.5,180],[121.5,800],[121.5,2000],[121.6,400],[121.6,1100],[121.7,250],[121.7,900],[121.7,2500],[121.8,550],[121.8,200],[121.9,1100],[121.9,350],[122.0,1000],[122.0,200],[122.1,600],[122.1,1700],[122.2,400],[122.2,1200],[122.3,500],[122.3,250],[121.2,4000],[121.4,5500],[121.0,3000],[120.3,2000],[119.8,500],[119.3,400],[119.0,300],[118.6,250],[118.3,150],[118.0,110],[117.7,75],[117.3,80],[117.0,55],[116.6,70],[116.3,40],[115.9,45],[115.5,60],[115.1,55],[114.7,30],[114.3,50],[113.9,30],[113.5,45],[113.1,35],[112.7,30],[112.3,20],[118.9,400],[118.2,300],[117.5,250],[116.8,180],[116.1,110],
  [115.0,40],[115.2,60],[115.4,35],[115.5,80],[115.7,50],[115.9,100],[116.0,45],[116.2,70],[116.3,120],[116.5,55],[116.6,90],[116.8,40],[117.0,150],[117.1,75],[117.3,110],[117.4,50],[117.6,200],[117.7,90],[117.9,130],[118.0,60],[118.1,250],[118.3,100],[118.4,180],[118.6,70],[118.7,300],[118.9,140],[119.0,220],[118.2,45],[117.5,40],[116.7,30],[115.8,30],[116.1,150],[116.9,250],[117.8,400],[118.5,500],[119.1,600],[115.6,200],[116.4,300],[117.2,350],[118.8,120],[117.0,100],[116.0,80],[118.0,160],[119.3,90],[119.5,55],[118.5,85],[117.5,65],[116.5,110],[115.3,120],
  [111.0,20],[111.3,25],[111.5,18],[111.7,30],[112.0,22],[112.2,35],[112.4,28],[112.6,40],[112.8,25],[113.0,45],[113.2,30],[113.4,55],[113.6,35],[113.8,60],[114.0,40],[114.2,70],[114.4,30],[114.6,50],[114.8,80],[112.5,60],[113.5,80],[114.5,100],[113.0,20],[114.0,25],[112.0,45],[111.8,15],[112.8,18],
  [109.0,40],[109.5,4000],[110.0,25],[110.5,60],[111.0,250],[111.2,120],[111.5,150],[112.0,100],[112.5,400],[113.0,200],[113.5,900],[114.0,500],[114.3,800],[114.8,250],[115.0,1200],[115.5,700],[116.0,1800],[117.0,1000],[117.8,3000],[118.5,2000],[119.0,1500],[119.5,5000],[120.0,8000],[122.8,500],[123.0,300],[122.6,1000],[110.8,30],[118.0,800],[116.8,600]];

// axis ticks
var yMajor = [100, 1000, 10000];
var yMinor = [20,30,40,50,60,70,80,90,200,300,400,500,600,700,800,900,2000,3000,4000,5000,6000,7000,8000,9000];

var panels = [
  {pts: atPts, dom: [-5000, 3000], major: [-4000,-2000,0,2000], step: 500, title: [["A"],["t",1],[" (GeV)"]], top: true},
  {pts: ratioPts, dom: [0, 30], major: [0,10,20,30], step: 2, title: [["m"],["0",1],["/M"],["1/2",1]], top: true},
  {pts: mh1Pts, dom: [0.5, 4.5], major: [1,2,3,4], step: 0.2, title: [["m"],["H1",1],["/ m"],["0",1]]},
  {pts: mh2Pts, dom: [0.5, 4.5], major: [1,2,3,4], step: 0.2, title: [["m"],["H2",1],["/ m"],["0",1]]},
  {pts: charginoPts, dom: [0, 1500], major: [0,500,1000,1500], step: 100, title: [["m"],["C1",1],[" (GeV)"]]},
  {pts: stopPts, dom: [500, 5500], major: [1000,2000,3000,4000,5000], step: 200, title: [["M"],["t2",1],[" (GeV)"]]},
  {pts: muPts, dom: [-2000, 0], major: [-2000,-1500,-1000,-500,0], step: 100, title: [["μ", 0, true],[" (GeV)"]]},
  {pts: higgsPts, dom: [105, 125], major: [105,110,115,120,125], step: 1, title: [["M"],["h",1],[" (GeV)"]]}
];

var W = 817, H = 1090;
var colX = [100, 448], rowY = [29, 284, 539, 794];
var pw = 282, ph = 183;
var dot = 2.4;

var svg = d3.select("body").append("svg")
    .attr("width", W)
    .attr("height", H);

function minorTicks(dom, step, major) {
    var out = [];
    var n = Math.round((dom[1] - dom[0]) / step);
    for (var i = 0; i <= n; i++) {
        var v = +(dom[0] + i * step).toFixed(6);
        if (major.indexOf(v) < 0) out.push(v);
    }
    return out;
}

function fmtNum(v) {
    return v < 0 ? "\u2212" + Math.abs(v) : String(v);
}

panels.forEach(function (p, i) {
    var col = i % 2, row = Math.floor(i / 2);
    var g = svg.append("g")
        .attr("transform", "translate(" + colX[col] + "," + rowY[row] + ")");

    var x = d3.scaleLinear().domain(p.dom).range([0, pw]);
    var y = d3.scaleLog().domain([10, 10000]).range([ph, 0]);

    var clipId = "clip" + i;
    g.append("clipPath").attr("id", clipId)
        .append("rect").attr("width", pw).attr("height", ph);

    // points
    g.append("g").attr("clip-path", "url(#" + clipId + ")")
        .selectAll("rect")
        .data(p.pts)
        .enter().append("rect")
        .attr("x", function (d) { return x(d[0]) - dot / 2; })
        .attr("y", function (d) { return y(d[1]) - dot / 2; })
        .attr("width", dot)
        .attr("height", dot)
        .attr("fill", "#000");

    var minors = minorTicks(p.dom, p.step, p.major);

    // x ticks, bottom with labels, top plain
    g.append("g").attr("transform", "translate(0," + ph + ")")
        .call(d3.axisBottom(x).tickValues(minors).tickSize(-4).tickFormat(""));
    g.append("g").attr("transform", "translate(0," + ph + ")")
        .attr("class", "xlab")
        .call(d3.axisBottom(x).tickValues(p.major).tickSize(-8).tickPadding(7).tickFormat(fmtNum));
    g.append("g")
        .call(d3.axisTop(x).tickValues(minors).tickSize(-4).tickFormat(""));
    g.append("g")
        .call(d3.axisTop(x).tickValues(p.major).tickSize(-8).tickFormat(""));

    // y ticks
    var yLab = p.top ? yMajor : yMajor.slice(0, 2);
    g.append("g")
        .call(d3.axisLeft(y).tickValues(yMinor).tickSize(-4).tickFormat(""));
    var yl = g.append("g")
        .call(d3.axisLeft(y).tickValues(yMajor).tickSize(-8).tickFormat(""));
    g.append("g").attr("transform", "translate(" + pw + ",0)")
        .call(d3.axisRight(y).tickValues(yMinor).tickSize(-4).tickFormat(""));
    g.append("g").attr("transform", "translate(" + pw + ",0)")
        .call(d3.axisRight(y).tickValues(yMajor).tickSize(-8).tickFormat(""));

    yl.selectAll(".tick").each(function (d) {
        if (yLab.indexOf(d) < 0) return;
        var t = d3.select(this).select("text")
            .attr("x", col === 0 ? -5 : -3).attr("dy", "0.35em")
            .attr("font-size", 13).attr("text-anchor", "end")
            .attr("letter-spacing", 0.8);
        t.append("tspan").text("10");
        t.append("tspan").attr("font-size", 10).attr("dy", "-0.55em")
            .text(String(Math.round(Math.log10(d))));
    });

    g.selectAll(".tick line").attr("stroke", "#000").attr("stroke-width", 1);
    g.selectAll(".domain").remove();
    g.selectAll(".tick text").attr("fill", "#000")
        .style("font-family", "'DejaVu Sans', 'Liberation Sans', Arial, sans-serif");
    g.selectAll(".xlab text").attr("font-size", 13).attr("letter-spacing", 1.2);

    // frame
    g.append("rect").attr("width", pw).attr("height", ph)
        .attr("fill", "none").attr("stroke", "#000").attr("stroke-width", 1.3);

    // x title
    var xt = g.append("text")
        .attr("x", pw / 2).attr("y", ph + 50)
        .attr("text-anchor", "middle")
        .attr("font-size", 18);
    p.title.forEach(function (part, k) {
        var s = xt.append("tspan").text(part[0]);
        if (part[1]) s.attr("font-size", 11).attr("dy", 4);
        else if (k > 0 && p.title[k - 1][1]) s.attr("dy", -4);
        if (part[2]) s.attr("font-style", "italic");
    });

    // y title
    var yt = g.append("text")
        .attr("transform", "translate(" + (col === 0 ? -48 : -46) + "," + (ph / 2) + ") rotate(-90)")
        .attr("text-anchor", "middle")
        .attr("font-size", 18);
    yt.append("tspan").text("\u0394");
    yt.append("tspan").attr("font-size", 11).attr("dy", 4).text("0");
});
</script>
</body>
</html>
